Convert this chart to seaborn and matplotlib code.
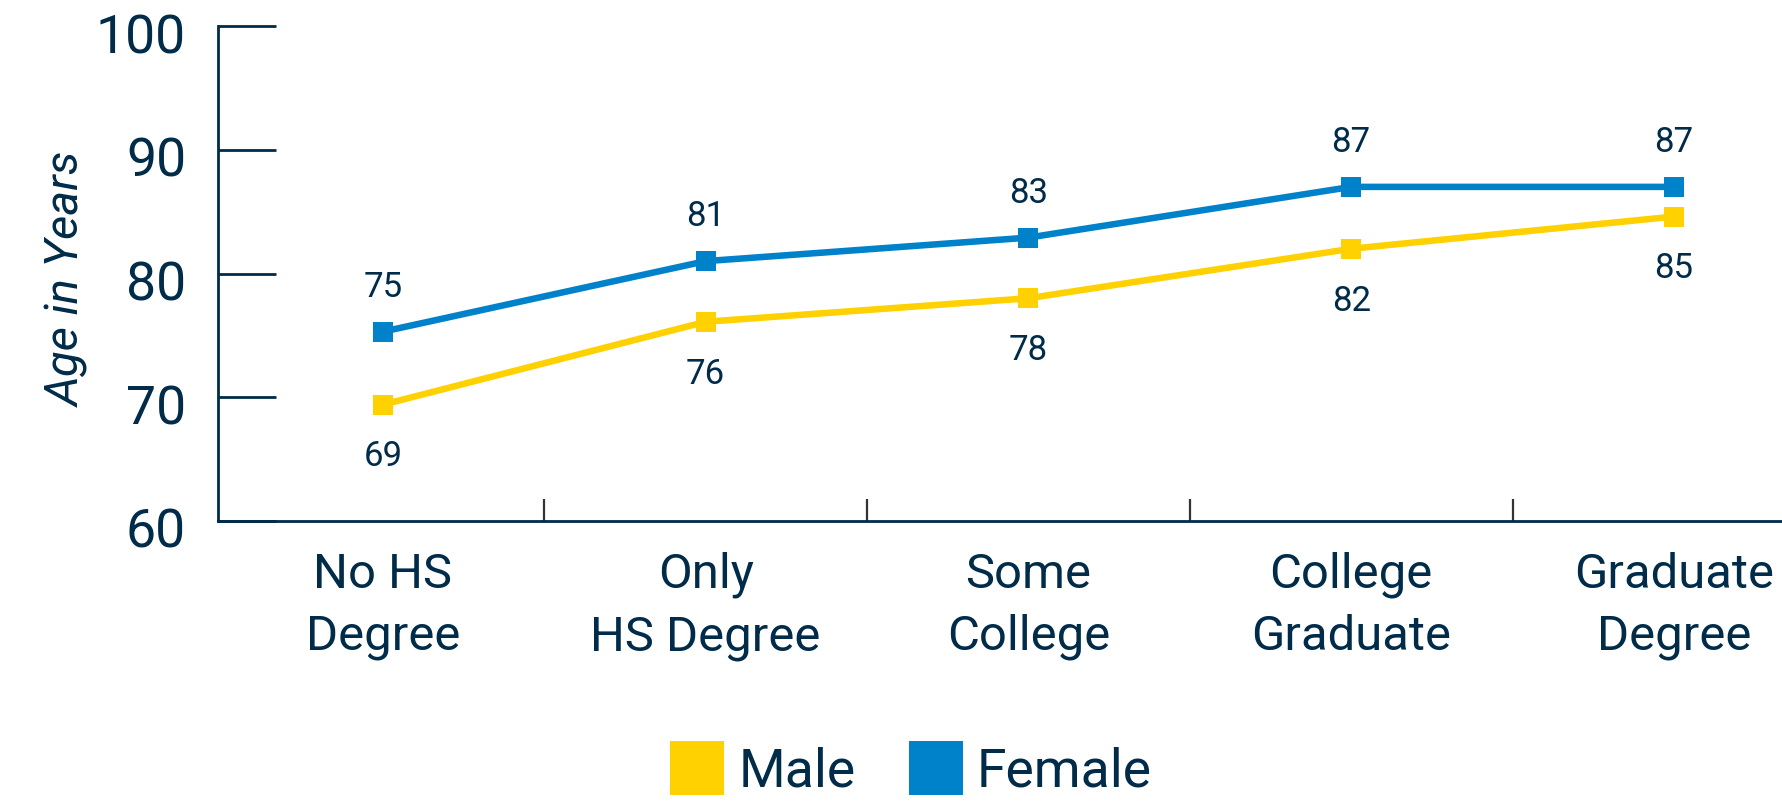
import matplotlib
matplotlib.use("Agg")
import matplotlib.pyplot as plt
import matplotlib.transforms as mtransforms
from matplotlib.lines import Line2D
from matplotlib.ticker import FixedLocator
import seaborn as sns
import pandas as pd

# ---- data ----
categories = ["No HS\nDegree", "Only\nHS Degree", "Some\nCollege", "College\nGraduate", "Graduate\nDegree"]
male_age = [69.4, 76.1, 78.0, 82.0, 84.6]
female_age = [75.3, 81.0, 82.9, 87.0, 87.0]
male_labels = ["69", "76", "78", "82", "85"]
female_labels = ["75", "81", "83", "87", "87"]
series_names = ["Male", "Female"]
y_ticks = [60, 70, 80, 90, 100]

NAVY = "#002B49"
YELLOW = "#FFD100"
BLUE = "#0082CA"

df = pd.DataFrame({
    "Education": categories * 2,
    "Age": male_age + female_age,
    "Sex": [series_names[0]] * len(categories) + [series_names[1]] * len(categories),
})

sns.set_theme(style="white")
plt.rcParams["font.family"] = ["Roboto", "DejaVu Sans"]
plt.rcParams["text.color"] = NAVY

DPI = 100
fig = plt.figure(figsize=(1783 / DPI, 806 / DPI), dpi=DPI)
ax = fig.add_axes([218 / 1783, 1 - 521 / 806, 1 - 218 / 1783, (521 - 26) / 806])

sns.pointplot(
    data=df, x="Education", y="Age", hue="Sex",
    order=categories, hue_order=series_names,
    palette=[YELLOW, BLUE], markers="s", linestyles="-",
    errorbar=None, legend=False, ax=ax,
    markersize=15, linewidth=4.7, markeredgewidth=0,
)

# data labels
for i, (v, t) in enumerate(zip(female_age, female_labels)):
    ax.annotate(t, xy=(i, v), xytext=(0, 25), textcoords="offset points",
                ha="center", va="baseline", fontsize=25, color=NAVY)
for i, (v, t) in enumerate(zip(male_age, male_labels)):
    ax.annotate(t, xy=(i, v), xytext=(0, -44.5), textcoords="offset points",
                ha="center", va="baseline", fontsize=25, color=NAVY)

ax.set_ylim(60, 100)
ax.set_xlim(-0.511, 4.338)
ax.set_yticks(y_ticks)
ax.set_yticklabels([str(t) for t in y_ticks])

for s in ["top", "right"]:
    ax.spines[s].set_visible(False)
for s in ["left", "bottom"]:
    ax.spines[s].set_color(NAVY)
    ax.spines[s].set_linewidth(2.0)

ax.tick_params(axis="y", direction="in", length=42, width=2.0, color=NAVY,
               labelsize=38.5, labelcolor=NAVY, pad=23, left=True)
ax.tick_params(axis="x", which="major", length=0, labelsize=35.3,
               labelcolor=NAVY, pad=22)
ax.xaxis.set_minor_locator(FixedLocator([0.5, 1.5, 2.5, 3.5]))
ax.tick_params(axis="x", which="minor", direction="in", length=16, width=1.6,
               color="#333333", bottom=True)
for lab in ax.get_xticklabels():
    lab.set_linespacing(1.45)

offset = mtransforms.ScaledTranslation(0, -7 / DPI, fig.dpi_scale_trans)
for lab in ax.get_yticklabels():
    lab.set_transform(lab.get_transform() + offset)

ax.set_xlabel("")
ax.set_ylabel("Age in Years", fontsize=34, style="italic", color=NAVY)
ax.yaxis.set_label_coords((90 - 218) / 1565, (521 - 279) / 495)
ax.grid(False)

handles = [
    Line2D([], [], marker="s", linestyle="none", markersize=38.9,
           markerfacecolor=YELLOW, markeredgewidth=0),
    Line2D([], [], marker="s", linestyle="none", markersize=38.9,
           markerfacecolor=BLUE, markeredgewidth=0),
]
fig.legend(handles, series_names, loc="center", ncol=2, frameon=False,
           bbox_to_anchor=(911 / 1783, 1 - 772 / 806),
           fontsize=38.5, handlelength=1.01, handletextpad=0.26,
           columnspacing=1.0, borderpad=0, labelcolor=NAVY)

fig.savefig("out.png", dpi=DPI)
